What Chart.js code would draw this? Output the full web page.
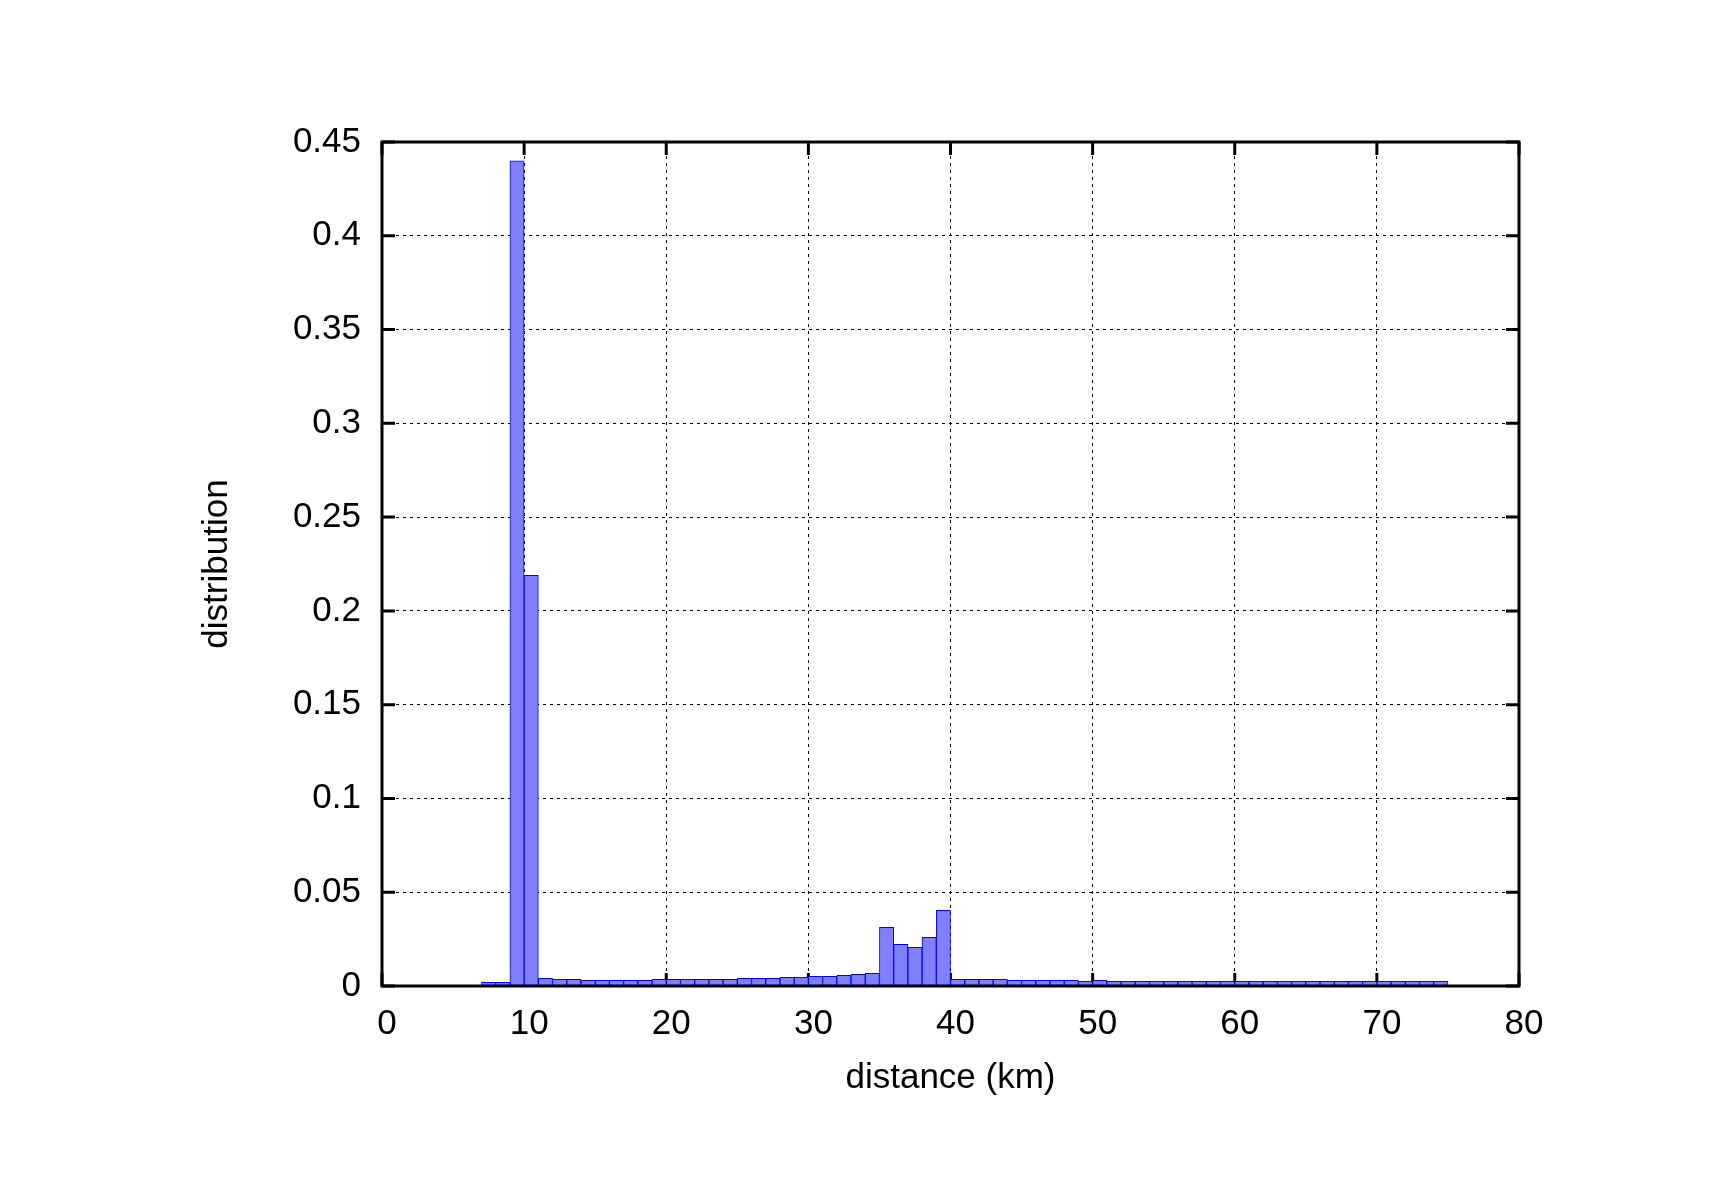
<!DOCTYPE html>
<html>
<head>
<meta charset="utf-8">
<title>distance distribution</title>
<script src="https://cdn.jsdelivr.net/npm/chart.js@4.4.1/dist/chart.umd.min.js"></script>
<style>
	html, body { margin: 0; padding: 0; background: #fff; }
	#wrap { width: 1716px; height: 1200px; }
</style>
</head>
<body>
<div id="wrap"><canvas id="chart" width="1716" height="1200"></canvas></div>
<script>
// histogram bins, 1 km wide, left edge of each bin
const binStart = [7, 8, 9, 10, 11, 12, 13, 14, 15, 16, 17, 18, 19, 20, 21, 22, 23, 24, 25, 26,
	27, 28, 29, 30, 31, 32, 33, 34, 35, 36, 37, 38, 39, 40, 41, 42, 43, 44, 45, 46,
	47, 48, 49, 50, 51, 52, 53, 54, 55, 56, 57, 58, 59, 60, 61, 62, 63, 64, 65, 66,
	67, 68, 69, 70, 71, 72, 73, 74];
const binWidth = 1;

const distribution = [0.002, 0.002, 0.44, 0.219, 0.0041, 0.0036, 0.0036, 0.003, 0.003, 0.003,
	0.003, 0.003, 0.0036, 0.0036, 0.0036, 0.0036, 0.0036, 0.0036, 0.0041, 0.0041,
	0.0041, 0.0046, 0.0046, 0.0052, 0.0052, 0.0057, 0.0062, 0.0068, 0.0313, 0.0222,
	0.0206, 0.026, 0.0404, 0.0036, 0.0036, 0.0036, 0.0036, 0.003, 0.003, 0.003,
	0.003, 0.003, 0.0025, 0.003, 0.0025, 0.0025, 0.0025, 0.0025, 0.0025, 0.0025,
	0.0025, 0.0025, 0.0025, 0.0025, 0.0025, 0.0025, 0.0025, 0.0025, 0.0025, 0.0025,
	0.0025, 0.0025, 0.0025, 0.0025, 0.0025, 0.0025, 0.0025, 0.0025];

const xTickLabels = ['0', '10', '20', '30', '40', '50', '60', '70', '80'];
const yTickLabels = ['0', '0.05', '0.1', '0.15', '0.2', '0.25', '0.3', '0.35', '0.4', '0.45'];

const xTitle = 'distance (km)';
const yTitle = 'distribution';

const fontFamily = "'Liberation Sans', Arial, sans-serif";
const fontSize = 35;

// gnuplot style border with inward ticks on all four sides
const framePlugin = {
	id: 'frame',
	beforeDatasetsDraw: function (chart) {
		const ctx = chart.ctx;
		const a = chart.chartArea;
		const x = chart.scales.x;
		const y = chart.scales.y;
		const len = 13;
		ctx.save();
		ctx.strokeStyle = '#000';
		ctx.lineWidth = 3;
		ctx.beginPath();
		x.ticks.forEach(function (t) {
			const px = x.getPixelForValue(t.value);
			ctx.moveTo(px, a.bottom);
			ctx.lineTo(px, a.bottom - len);
			ctx.moveTo(px, a.top);
			ctx.lineTo(px, a.top + len);
		});
		y.ticks.forEach(function (t) {
			const py = y.getPixelForValue(t.value);
			ctx.moveTo(a.left, py);
			ctx.lineTo(a.left + len, py);
			ctx.moveTo(a.right, py);
			ctx.lineTo(a.right - len, py);
		});
		ctx.stroke();
		ctx.restore();
	},
	afterDatasetsDraw: function (chart) {
		const ctx = chart.ctx;
		const a = chart.chartArea;
		ctx.save();
		ctx.strokeStyle = '#000';
		ctx.lineWidth = 3;
		ctx.strokeRect(a.left, a.top, a.right - a.left, a.bottom - a.top);
		ctx.restore();
	}
};

function edgeTransparent(c) {
	if (!c.tick) {
		return '#000';
	}
	const n = c.scale.ticks.length;
	return (c.index === 0 || c.index === n - 1) ? 'rgba(0,0,0,0)' : '#000';
}

const ctx = document.getElementById('chart').getContext('2d');
const chart = new Chart(ctx, {
	type: 'bar',
	data: {
		datasets: [{
			label: yTitle,
			data: binStart.map(function (s, i) {
				return { x: s + binWidth / 2, y: distribution[i] };
			}),
			backgroundColor: '#8080ff',
			borderColor: '#0000ff',
			borderWidth: 1,
			borderSkipped: false,
			barPercentage: 1,
			categoryPercentage: 1,
			grouped: false
		}]
	},
	options: {
		responsive: false,
		animation: false,
		devicePixelRatio: 1,
		layout: {
			padding: { left: 196.8, right: 197, top: 142, bottom: 100.4 }
		},
		plugins: {
			legend: { display: false },
			tooltip: { enabled: false }
		},
		scales: {
			x: {
				type: 'linear',
				min: 0,
				max: 80,
				offset: false,
				afterFit: function (scale) { scale.height = 113.6; },
				ticks: {
					stepSize: 10,
					padding: 17.8,
					labelOffset: 5,
					maxRotation: 0,
					color: '#000',
					font: { family: fontFamily, size: fontSize },
					callback: function (v, i) { return xTickLabels[i]; }
				},
				grid: {
					offset: false,
					drawTicks: false,
					lineWidth: 1,
					color: edgeTransparent
				},
				border: { display: false, dash: [3, 4] },
				title: {
					display: true,
					text: xTitle,
					color: '#000',
					padding: 0,
					font: { family: fontFamily, size: fontSize }
				}
			},
			y: {
				min: 0,
				max: 0.45,
				afterFit: function (scale) { scale.width = 185.2; },
				ticks: {
					stepSize: 0.05,
					padding: 21,
					color: '#000',
					font: { family: fontFamily, size: fontSize },
					callback: function (v, i) { return yTickLabels[i]; }
				},
				grid: {
					drawTicks: false,
					lineWidth: 1,
					color: edgeTransparent
				},
				border: { display: false, dash: [3, 4] },
				title: {
					display: true,
					text: yTitle,
					color: '#000',
					padding: 0,
					font: { family: fontFamily, size: fontSize }
				}
			}
		}
	},
	plugins: [framePlugin]
});
</script>
</body>
</html>
